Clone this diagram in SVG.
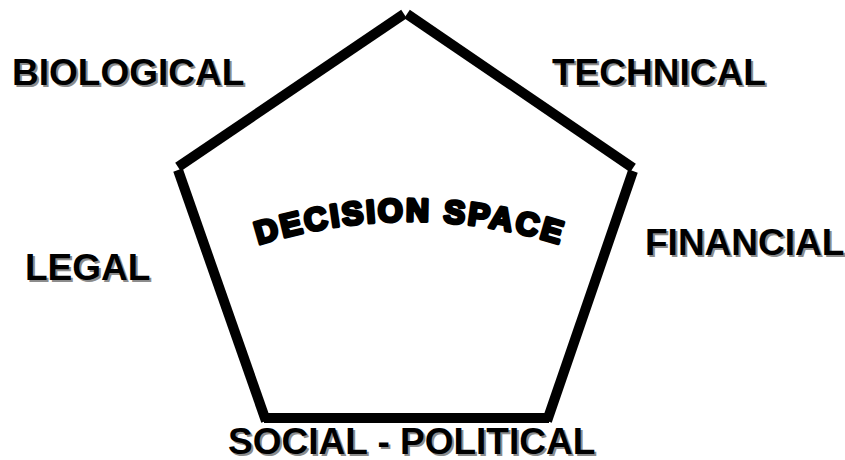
<svg xmlns="http://www.w3.org/2000/svg" width="845" height="460" viewBox="0 0 845 460">
<style>
.edge{stroke:#000;stroke-width:10;stroke-linecap:butt;fill:none}
.lbl{font-family:"Liberation Sans",Arial,sans-serif;font-weight:bold;font-size:37px}
.sh{fill:#8c8c8c}
.fg{fill:#000}
.arc{font-family:"Liberation Sans",Arial,sans-serif;font-weight:bold;font-size:32px;fill:#000;stroke:#000;stroke-width:3.4;stroke-linejoin:round;letter-spacing:2.6px}
</style>
<defs>
<path id="arcPath" d="M 240 251 A 500 500 0 0 1 580 251"/>
</defs>
<rect width="845" height="460" fill="#fff"/>
<g id="connectors">
<line class="edge" x1="178" y1="167" x2="404" y2="14"/>
<line class="edge" x1="407" y1="14" x2="633" y2="168"/>
<line class="edge" x1="178" y1="170" x2="266" y2="421"/>
<line class="edge" x1="633" y1="171" x2="547" y2="421"/>
<line class="edge" x1="264" y1="418" x2="549" y2="418"/>
</g>
<g id="decision-space">
<text class="arc"><textPath href="#arcPath" startOffset="50%" text-anchor="middle">DECISION SPACE</textPath></text>
</g>
<g id="biological">
<text class="lbl sh" x="14" y="87">BIOLOGICAL</text>
<text class="lbl fg" x="12" y="85">BIOLOGICAL</text>
</g>
<g id="technical">
<text class="lbl sh" x="554" y="87">TECHNICAL</text>
<text class="lbl fg" x="552" y="85">TECHNICAL</text>
</g>
<g id="financial">
<text class="lbl sh" x="647" y="257">FINANCIAL</text>
<text class="lbl fg" x="645" y="255">FINANCIAL</text>
</g>
<g id="legal">
<text class="lbl sh" x="27" y="282">LEGAL</text>
<text class="lbl fg" x="25" y="280">LEGAL</text>
</g>
<g id="social-political">
<text class="lbl sh" x="230" y="456">SOCIAL - POLITICAL</text>
<text class="lbl fg" x="228" y="454">SOCIAL - POLITICAL</text>
</g>
</svg>
